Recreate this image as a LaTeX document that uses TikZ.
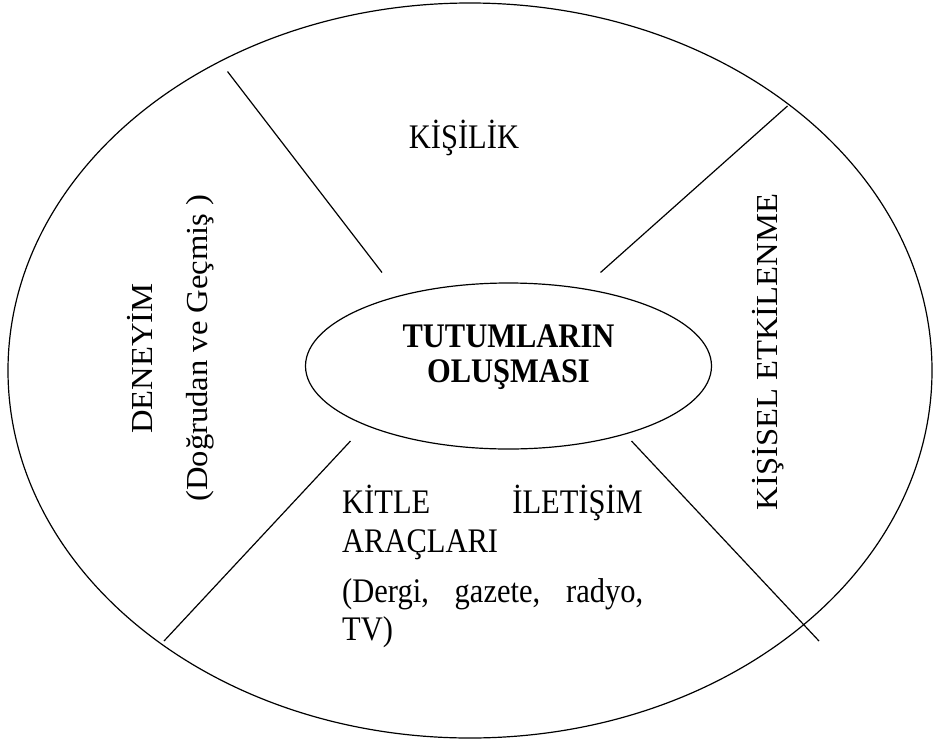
\documentclass[tikz,border=0pt]{standalone}
\usepackage{graphicx}
\usepackage{fontspec}
\setmainfont{Liberation Serif}
\usetikzlibrary{shapes.geometric}
\newcommand\hstretch[1]{\scalebox{1}[1.13]{#1}}
\newcommand\lstretch[1]{\scalebox{1.07}[1]{#1}}
\tikzset{
  shape line/.style={line width=1.2pt},
  lbl/.style={inner sep=0pt, font=\fontsize{30.5}{34}\selectfont},
  rlbl/.style={lbl, rotate=90, anchor=base},
}
\begin{document}
\begin{tikzpicture}[x=1pt,y=-1pt]
\useasboundingbox (0,0) rectangle (934,739);
% outer ellipse
\draw[shape line] (470,370.5) ellipse [x radius=462, y radius=367.5];
% centre ellipse
\node[shape line, draw, ellipse, minimum width=406pt, minimum height=166pt, inner sep=0pt] (core) at (508.5,366) {};
\node[lbl, anchor=base, font=\fontsize{30.5}{34}\selectfont\bfseries] (t1) at (508.5,347.5) {\hstretch{TUTUMLARIN}};
\node[lbl, anchor=base, font=\fontsize{30.5}{34}\selectfont\bfseries] (t2) at (508.5,382.5) {\hstretch{OLUŞMASI}};
% dividers
\coordinate (a1) at (227.5,71.5);  \coordinate (a2) at (382,272.5);
\coordinate (b1) at (787.5,106);   \coordinate (b2) at (600.5,272.5);
\coordinate (c1) at (350.5,441);   \coordinate (c2) at (164,641);
\coordinate (d1) at (631.5,441);   \coordinate (d2) at (819,641);
\draw[shape line] (a1) -- (a2);
\draw[shape line] (b1) -- (b2);
\draw[shape line] (c1) -- (c2);
\draw[shape line] (d1) -- (d2);
% labels
\node[lbl, anchor=base] (kisilik) at (464,148) {\hstretch{KİŞİLİK}};
\node[rlbl] (deneyim) at (152,358.5) {\lstretch{DENEYİM}};
\node[rlbl] (dogrudan) at (207,348) {\lstretch{(Doğrudan ve Geçmiş )}};
\node[rlbl] (kisisel) at (777,352) {\lstretch{KİŞİSEL ETKİLENME}};
\node[lbl, anchor=base west] (kitle) at (342,513) {\hstretch{KİTLE}};
\node[lbl, anchor=base east] (iletisim) at (643,513) {\hstretch{İLETİŞİM}};
\node[lbl, anchor=base west] (araclari) at (342,552) {\hstretch{ARAÇLARI}};
\node[lbl, anchor=base west] (dergi) at (342,602) {\hstretch{\makebox[301pt][s]{(Dergi, gazete, radyo,}}};
\node[lbl, anchor=base west] (tv) at (342,640) {\hstretch{TV)}};
\end{tikzpicture}
\end{document}
